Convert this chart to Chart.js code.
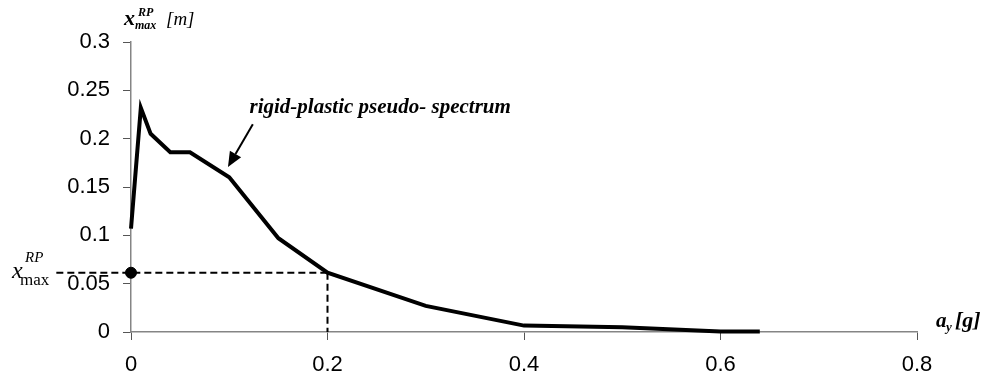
<!DOCTYPE html>
<html>
<head>
<meta charset="utf-8">
<script src="https://cdn.jsdelivr.net/npm/chart.js@4"></script>
<style>
html,body{margin:0;padding:0;background:#fff;}
canvas{display:block;}
</style>
</head>
<body>
<canvas id="c" width="994" height="383"></canvas>
<script>
// ---- data ----
const accelerations = [0, 0.01, 0.02, 0.04, 0.06, 0.1, 0.15, 0.2, 0.3, 0.4, 0.5, 0.6, 0.64];
const displacements = [0.107, 0.232, 0.205, 0.186, 0.186, 0.160, 0.097, 0.0613, 0.027, 0.0066, 0.0048, 0.0004, 0.0004];
const markedAy = 0.2;
const markedX = 0.0613;
const dashLeftStart = -0.076;
const xTickLabels = ['0', '0.2', '0.4', '0.6', '0.8'];
const yTickLabels = ['0', '0.05', '0.1', '0.15', '0.2', '0.25', '0.3'];
const annotationText = 'rigid-plastic pseudo- spectrum';
const annotationAt = {x: 0.1206, y: 0.2265};
const arrowFrom = {x: 0.124, y: 0.215};
const arrowTo = {x: 0.0987, y: 0.1707};

const curve = accelerations.map((a, i) => ({x: a, y: displacements[i]}));

const overlay = {
  id: 'overlay',
  afterDatasetsDraw(chart) {
    const ctx = chart.ctx;
    const xs = chart.scales.x, ys = chart.scales.y;
    const ca = chart.chartArea;
    ctx.save();
    ctx.fillStyle = '#000';
    ctx.strokeStyle = '#000';
    ctx.textBaseline = 'alphabetic';
    ctx.textAlign = 'left';
    // annotation text
    ctx.font = 'bold italic 21px "Liberation Serif"';
    ctx.fillText(annotationText, xs.getPixelForValue(annotationAt.x), ys.getPixelForValue(annotationAt.y));
    // arrow
    const x1 = xs.getPixelForValue(arrowFrom.x), y1 = ys.getPixelForValue(arrowFrom.y);
    const x2 = xs.getPixelForValue(arrowTo.x), y2 = ys.getPixelForValue(arrowTo.y);
    const ang = Math.atan2(y2 - y1, x2 - x1);
    const hl = 15, hw = 6.5;
    const bx = x2 - hl * Math.cos(ang), by = y2 - hl * Math.sin(ang);
    ctx.lineWidth = 2;
    ctx.beginPath(); ctx.moveTo(x1, y1); ctx.lineTo(bx, by); ctx.stroke();
    ctx.beginPath();
    ctx.moveTo(x2, y2);
    ctx.lineTo(bx + hw * Math.sin(ang), by - hw * Math.cos(ang));
    ctx.lineTo(bx - hw * Math.sin(ang), by + hw * Math.cos(ang));
    ctx.closePath(); ctx.fill();

    // y-axis title  x_max^RP [m]
    const L = ca.left, T = ca.top;
    ctx.font = 'bold italic 22px "Liberation Serif"';
    ctx.fillText('x', L - 7, T - 17);
    ctx.font = 'bold italic 12px "Liberation Serif"';
    ctx.fillText('RP', L + 7, T - 26);
    ctx.font = 'bold italic 12px "Liberation Serif"';
    ctx.fillText('max', L + 4, T - 13);
    ctx.font = 'italic 19px "Liberation Serif"';
    ctx.fillText('[m]', L + 35, T - 17);

    // x-axis title  a_y [g]
    const R = ca.right, B = ca.bottom;
    ctx.font = 'bold italic 21px "Liberation Serif"';
    ctx.fillText('a', R + 19, B - 5);
    ctx.font = 'bold italic 13px "Liberation Serif"';
    ctx.fillText('y', R + 29, B - 1);
    ctx.font = 'bold italic 22px "Liberation Serif"';
    ctx.fillText('[g]', R + 38, B - 5);

    // left label x_max^RP
    const yl = ys.getPixelForValue(markedX);
    ctx.font = 'italic 24px "Liberation Serif"';
    ctx.fillText('x', L - 119, yl + 5);
    ctx.font = 'italic 15px "Liberation Serif"';
    ctx.fillText('RP', L - 106, yl - 11);
    ctx.font = '17px "Liberation Serif"';
    ctx.fillText('max', L - 111, yl + 12);
    ctx.restore();
  }
};

new Chart(document.getElementById('c'), {
  type: 'line',
  data: {
    datasets: [
      {
        data: [{x: dashLeftStart, y: markedX}, {x: markedAy, y: markedX}],
        borderColor: '#000', borderWidth: 2, borderDash: [7, 4],
        pointRadius: 0, clip: false, tension: 0
      },
      {
        data: [{x: markedAy, y: markedX}, {x: markedAy, y: 0}],
        borderColor: '#000', borderWidth: 2, borderDash: [7, 4],
        pointRadius: 0, clip: false, tension: 0
      },
      {
        data: curve,
        borderColor: '#000', borderWidth: 4, borderJoinStyle: 'miter',
        pointRadius: 0, tension: 0, clip: false
      },
      {
        data: [{x: 0, y: markedX}],
        showLine: false, pointRadius: 5.5, pointBackgroundColor: '#000',
        pointBorderColor: '#000', clip: false
      }
    ]
  },
  options: {
    responsive: false,
    animation: false,
    devicePixelRatio: 1,
    layout: {padding: {top: 42, right: 77, left: 0, bottom: 0}},
    plugins: {legend: {display: false}, tooltip: {enabled: false}},
    scales: {
      x: {
        type: 'linear', min: 0, max: 0.8,
        afterFit(s) { s.height = 51; },
        border: {display: true, color: '#858585', width: 1.5},
        grid: {display: true, drawOnChartArea: false, drawTicks: true, tickLength: 8, color: '#555'},
        ticks: {
          stepSize: 0.2, padding: 12, color: '#000',
          font: {family: 'Liberation Sans', size: 22},
          callback: (v) => xTickLabels[Math.round(v / 0.2)]
        }
      },
      y: {
        type: 'linear', min: 0, max: 0.3,
        afterFit(s) { s.width = 131; },
        border: {display: true, color: '#858585', width: 1.5},
        grid: {display: true, drawOnChartArea: false, drawTicks: true, tickLength: 8, color: '#555'},
        ticks: {
          stepSize: 0.05, padding: 13, color: '#000',
          font: {family: 'Liberation Sans', size: 22},
          callback: (v) => yTickLabels[Math.round(v / 0.05)]
        }
      }
    }
  },
  plugins: [overlay]
});
</script>
</body>
</html>
